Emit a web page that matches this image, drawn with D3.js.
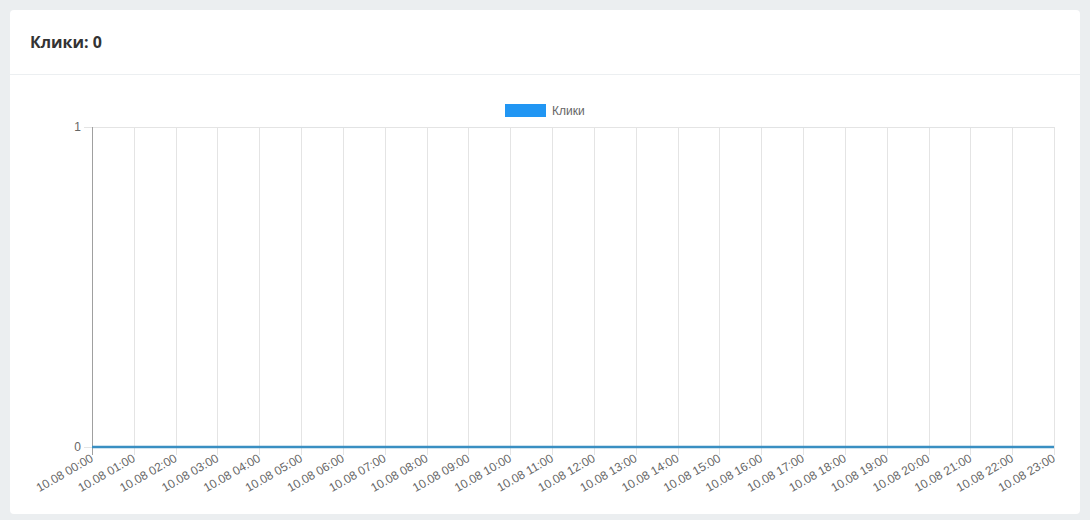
<!DOCTYPE html>
<html><head><meta charset="utf-8">
<script src="https://cdn.jsdelivr.net/npm/d3@7"></script>
<style>
body{margin:0;background:#ebeef0;font-family:"Open Sans",sans-serif;}
svg{display:block}
</style></head><body>
<svg id="c" width="1090" height="520"></svg>
<script>
const title = "Клики: 0";
const seriesName = "Клики";
const categories = ["10.08 00:00","10.08 01:00","10.08 02:00","10.08 03:00","10.08 04:00","10.08 05:00","10.08 06:00","10.08 07:00","10.08 08:00","10.08 09:00","10.08 10:00","10.08 11:00","10.08 12:00","10.08 13:00","10.08 14:00","10.08 15:00","10.08 16:00","10.08 17:00","10.08 18:00","10.08 19:00","10.08 20:00","10.08 21:00","10.08 22:00","10.08 23:00"];
const values = [0,0,0,0,0,0,0,0,0,0,0,0,0,0,0,0,0,0,0,0,0,0,0,0];
const yTicks = [0,1];

const svg = d3.select("#c");
// card
svg.append("rect").attr("x",10).attr("y",10).attr("width",1070).attr("height",504).attr("rx",4).attr("fill","#fff");
svg.append("line").attr("x1",10).attr("x2",1080).attr("y1",74.5).attr("y2",74.5).attr("stroke","#eceff1");
svg.append("text").attr("x",30).attr("y",48).attr("font-family","'Open Sans',sans-serif").attr("font-weight",700).attr("font-size",16).attr("fill","#333").text(title);

const L=92, R=1054, T=127, B=447;
const x = d3.scalePoint().domain(categories).range([L,R]);
const y = d3.scaleLinear().domain([0,1]).range([B,T]);
const g = svg.append("g").attr("font-family","'Liberation Sans',Arial,sans-serif");

// vertical grid
g.selectAll(".vg").data(categories).join("line")
 .attr("x1",d=>Math.round(x(d))+0.5).attr("x2",d=>Math.round(x(d))+0.5)
 .attr("y1",T).attr("y2",B+8).attr("stroke","#e4e4e4");
// horizontal grid
g.selectAll(".hg").data(yTicks).join("line")
 .attr("x1",L-8).attr("x2",R).attr("y1",d=>Math.round(y(d))+0.5).attr("y2",d=>Math.round(y(d))+0.5).attr("stroke","#e4e4e4");
// left axis line
g.append("line").attr("x1",L+0.5).attr("x2",L+0.5).attr("y1",T).attr("y2",B+8).attr("stroke","#a0a0a0");
// y labels
g.selectAll(".yl").data(yTicks).join("text")
 .attr("x",L-11).attr("y",d=>y(d)).attr("dy","0.35em").attr("text-anchor","end")
 .attr("font-size",12).attr("fill","#666").text(d=>d);
// x labels
g.selectAll(".xl").data(categories).join("text")
 .attr("transform",d=>`translate(${x(d)},${B+10}) rotate(-30)`)
 .attr("text-anchor","end").attr("dy","0.35em")
 .attr("font-size",12).attr("fill","#666").text(d=>d);
// line
const line = d3.line().x((d,i)=>x(categories[i])).y(d=>y(d));
g.append("path").datum(values).attr("d",line).attr("fill","none").attr("stroke","#3a8fc2").attr("stroke-width",2.5);
// legend
g.append("rect").attr("x",505).attr("y",104).attr("width",41).attr("height",13).attr("fill","#2196f3");
g.append("text").attr("x",552).attr("y",110.5).attr("dy","0.35em").attr("font-size",12).attr("fill","#666").text(seriesName);
</script></body></html>
